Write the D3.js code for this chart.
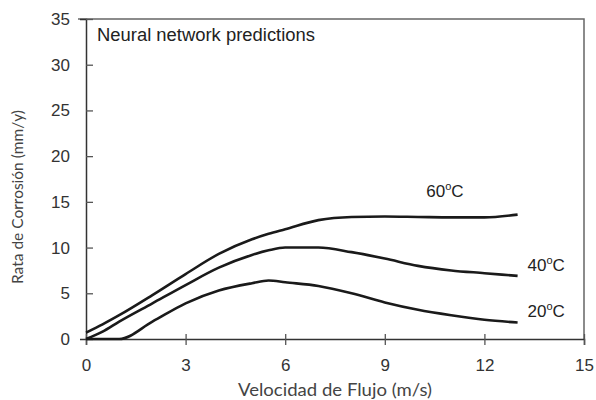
<!DOCTYPE html>
<html>
<head>
<meta charset="utf-8">
<script src="https://cdn.jsdelivr.net/npm/d3@7"></script>
<style>
  body { margin: 0; background: #fff; }
  svg { display: block; }
</style>
</head>
<body>
<div id="chart"></div>
<script>
// velocity (m/s) and predicted corrosion rate (mm/y) per temperature
const velocity = [0, 0.5, 1, 2, 3, 4, 5, 5.5, 6, 7, 8, 9, 10, 11, 12, 13]
const rate60 = [0.7, 1.6, 2.6, 4.8, 7.1, 9.3, 10.9, 11.5, 12.0, 13.0, 13.35, 13.4, 13.35, 13.3, 13.3, 13.6]
const rate40 = [0.0, 0.8, 1.9, 3.9, 5.9, 7.8, 9.2, 9.7, 10.0, 10.0, 9.5, 8.8, 8.0, 7.5, 7.2, 6.9]
const rate20 = [0.0, 0.0, 0.0, 1.9, 3.9, 5.3, 6.1, 6.4, 6.2, 5.8, 5.0, 4.0, 3.2, 2.6, 2.1, 1.8]
const seriesNames = ['60', '40', '20']
const xTicks = [0, 3, 6, 9, 12, 15]
const yTicks = [0, 5, 10, 15, 20, 25, 30, 35]

const width = 596
const height = 400
const margin = { top: 19, right: 12, bottom: 61, left: 86 }

const svg = d3.create('svg')
    .attr('width', width)
    .attr('height', height)
    .attr('viewBox', [0, 0, width, height])

const x = d3.scaleLinear().domain([0, 15]).range([margin.left, width - margin.right])
const y = d3.scaleLinear().domain([0, 35]).range([height - margin.bottom, margin.top])

const numFont = '"Liberation Sans", Arial, sans-serif'
const titleFont = 'Lato, "Open Sans", sans-serif'

/* frame: top and right borders */
svg.append('path')
    .attr('d', `M${x(0) - 8},${y(35)}H${x(15)}V${y(0)}`)
    .attr('fill', 'none')
    .attr('stroke', '#666')
    .attr('stroke-width', 1.5)

/* y axis */
const yAxis = svg.append('g')
    .attr('transform', `translate(${x(0)},0)`)
    .call(d3.axisLeft(y).tickValues(yTicks).tickSize(6).tickPadding(10))
yAxis.select('.domain').attr('stroke', '#333').attr('stroke-width', 1.5)
yAxis.selectAll('.tick line').attr('x2', 7).attr('stroke', '#555').attr('stroke-width', 1.3)
yAxis.selectAll('.tick text')
    .attr('font-family', numFont)
    .attr('font-size', 17)
    .attr('fill', '#333')
    .attr('x', -16)

/* x axis */
const xAxis = svg.append('g')
    .attr('transform', `translate(0,${y(0)})`)
    .call(d3.axisBottom(x).tickValues(xTicks).tickSize(6).tickPadding(14))
xAxis.select('.domain').attr('stroke', '#333').attr('stroke-width', 1.5)
xAxis.selectAll('.tick line').attr('y1', -5).attr('stroke', '#555').attr('stroke-width', 1.3)
xAxis.selectAll('.tick text')
    .attr('font-family', numFont)
    .attr('font-size', 17)
    .attr('fill', '#333')

/* axis titles */
svg.append('text')
    .attr('x', 335)
    .attr('y', 396)
    .attr('text-anchor', 'middle')
    .attr('font-family', titleFont)
    .attr('font-size', 17.5)
    .attr('fill', '#444')
    .attr('textLength', 194)
    .attr('lengthAdjust', 'spacingAndGlyphs')
    .text('Velocidad de Flujo (m/s)')

svg.append('text')
    .attr('transform', `translate(23,197) rotate(-90)`)
    .attr('text-anchor', 'middle')
    .attr('font-family', titleFont)
    .attr('font-size', 16)
    .attr('fill', '#444')
    .attr('textLength', 174)
    .attr('lengthAdjust', 'spacingAndGlyphs')
    .text('Rata de Corrosión (mm/y)')

svg.append('text')
    .attr('x', 97)
    .attr('y', 41)
    .attr('font-family', numFont)
    .attr('font-size', 17.5)
    .attr('fill', '#222')
    .attr('textLength', 218)
    .attr('lengthAdjust', 'spacingAndGlyphs')
    .text('Neural network predictions')

/* curves */
const line = d3.line()
    .x((d, i) => x(velocity[i]))
    .y(d => y(d))
    .curve(d3.curveMonotoneX)

const curves = [rate60, rate40, rate20]
svg.append('g')
    .selectAll('path')
    .data(curves)
    .enter()
    .append('path')
    .attr('d', line)
    .attr('fill', 'none')
    .attr('stroke', '#1a1a1a')
    .attr('stroke-width', 2.6)
    .attr('stroke-linejoin', 'round')

/* curve labels */
const labelPos = [[10.25, 15.5], [13.3, 7.4], [13.3, 2.4]]
const labels = svg.append('g')
    .selectAll('text')
    .data(seriesNames)
    .enter()
    .append('text')
    .attr('x', (d, i) => x(labelPos[i][0]))
    .attr('y', (d, i) => y(labelPos[i][1]))
    .attr('font-family', numFont)
    .attr('font-size', 17)
    .attr('fill', '#222')
labels.append('tspan').text(d => d)
labels.append('tspan').attr('font-size', 11).attr('dy', -7).text('o')
labels.append('tspan').attr('dy', 7).text('C')

document.getElementById('chart').appendChild(svg.node())
</script>
</body>
</html>
